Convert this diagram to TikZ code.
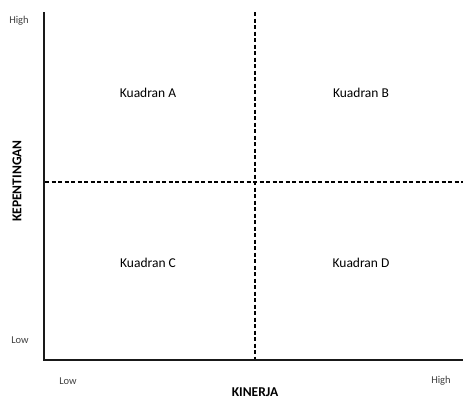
\documentclass[tikz,border=0pt]{standalone}
\usepackage{fontspec}
\setmainfont{Carlito}
\begin{document}
\begin{tikzpicture}[x=1pt,y=-1pt,
  axisline/.style={line width=2pt,color=black!90},
  divline/.style={line width=1.2pt,dash pattern=on 4pt off 2.5pt},
  small/.style={font=\fontsize{10.5}{12}\selectfont,text=black!75},
  quad/.style={font=\fontsize{13.5}{16}\selectfont},
  axlabel/.style={font=\bfseries\fontsize{13.5}{16}\selectfont}]
\useasboundingbox (0,0) rectangle (463,399);
\coordinate (top) at (44,12);
\coordinate (origin) at (44,360);
\coordinate (right) at (463,360);
\coordinate (vtop) at (255,12);
\coordinate (vbot) at (255,359);
\coordinate (hleft) at (45,182);
\coordinate (hright) at (463,182);
\draw[axisline] (top) -- (origin) -- (right);
\draw[divline] (vtop) -- (vbot);
\draw[divline] (hleft) -- (hright);
\node[small] (yhigh) at (19,21) {High};
\node[small] (ylow) at (20,340) {Low};
\node[small] (xlow) at (68,381) {Low};
\node[small] (xhigh) at (441,381) {High};
\node[axlabel] (xlab) at (255,392) {KINERJA};
\node[axlabel,rotate=90] (ylab) at (17,181) {KEPENTINGAN};
\node[quad] (qa) at (148,93) {Kuadran A};
\node[quad] (qb) at (361,93) {Kuadran B};
\node[quad] (qc) at (148,263) {Kuadran C};
\node[quad] (qd) at (361,263) {Kuadran D};
\end{tikzpicture}
\end{document}
